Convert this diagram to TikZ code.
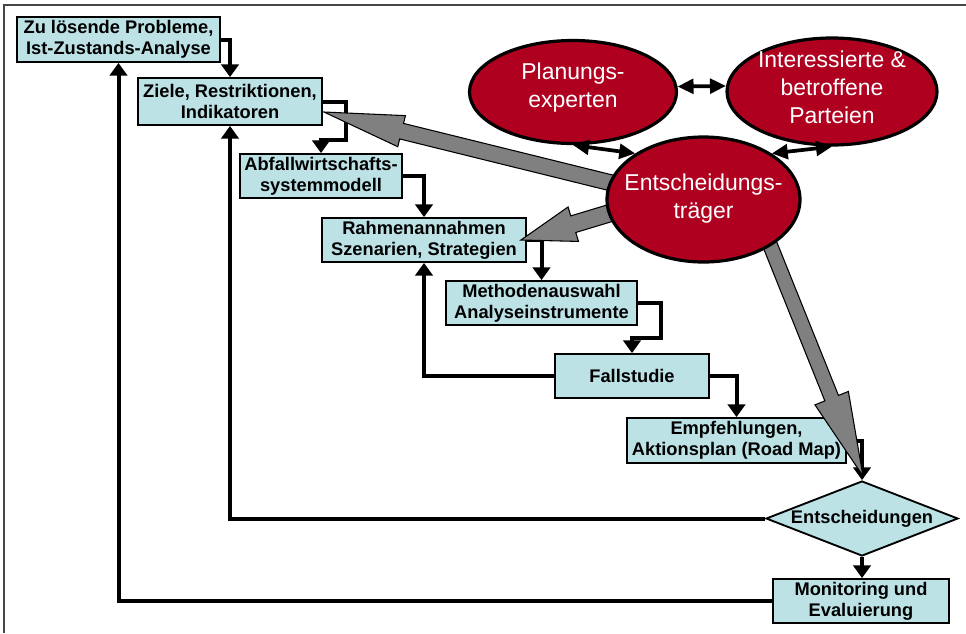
\documentclass[tikz,border=0pt]{standalone}
\usepackage{fontspec}
\setmainfont{Liberation Sans}
\usetikzlibrary{shapes.geometric,arrows.meta,calc}
\definecolor{boxfill}{RGB}{188,226,230}
\definecolor{ellred}{RGB}{176,0,32}
\definecolor{arrgrey}{RGB}{128,128,128}
\definecolor{framegrey}{RGB}{70,70,70}
\newcommand\mygreyarrow[5]{%
  \coordinate (fa-h) at ($(#2)!#5!(#1)$);
  \filldraw[fatarr] ($(#1)!#3!90:(#2)$) -- ($(fa-h)!#3!90:(#2)$) -- ($(fa-h)!#4!90:(#2)$)
    -- (#2) -- ($(fa-h)!#4!-90:(#2)$) -- ($(fa-h)!#3!-90:(#2)$) -- ($(#1)!#3!-90:(#2)$) -- cycle;
}
\begin{document}
\begin{tikzpicture}[x=0.75pt,y=-0.75pt,
  box/.style={draw=black,line width=1.4pt,fill=boxfill,rectangle,inner sep=0pt,align=center,
    font=\bfseries\fontsize{13.7}{15.5}\selectfont},
  dec/.style={draw=black,line width=1.4pt,fill=boxfill,diamond,shape aspect=2.56,inner sep=0pt,
    minimum width=144pt,minimum height=56.25pt,font=\bfseries\fontsize{13.7}{15.5}\selectfont},
  redell/.style={draw=black,line width=2.4pt,fill=ellred,ellipse,inner sep=0pt},
  elltext/.style={text=white,align=center,inner sep=0pt,font=\fontsize{17.2}{21}\selectfont},
  conn/.style={line width=3pt,-{Triangle[width=13pt,length=9.5pt]}},
  dbl/.style={line width=2.8pt,{Triangle[width=11pt,length=12pt]}-{Triangle[width=11pt,length=12pt]}},
  fatarr/.style={fill=arrgrey,draw=black,line width=0.8pt,line join=miter},
  frameline/.style={draw=framegrey,line width=1.2pt}
]
\useasboundingbox (0,0) rectangle (966,633);
% partial frame
\coordinate (fr-tr) at (966,5);
\coordinate (fr-tl) at (4,5);
\coordinate (fr-bl) at (4,633);
\draw[frameline] (fr-tr) -- (fr-tl) -- (fr-bl);

% boxes
\node[box,minimum width=152.25pt,minimum height=33.75pt] (pz) at (118.5,39.5) {Zu lösende Probleme,\\Ist-Zustands-Analyse};
\node[box,minimum width=138pt,minimum height=35.25pt] (zr) at (230,101.5) {Ziele, Restriktionen,\\Indikatoren};
\node[box,minimum width=121.5pt,minimum height=33pt] (ab) at (321,176) {Abfallwirtschafts-\\systemmodell};
\node[box,minimum width=153pt,minimum height=33pt] (ra) at (424,240) {Rahmenannahmen\\Szenarien, Strategien};
\node[box,minimum width=143.25pt,minimum height=33pt] (ms) at (541.5,303) {Methodenauswahl\\Analyseinstrumente};
\node[box,minimum width=115.5pt,minimum height=33pt] (fs) at (632,376) {Fallstudie};
\node[box,minimum width=164.25pt,minimum height=33.75pt] (em) at (736.5,440.5) {Empfehlungen,\\Aktionsplan (Road Map)};
\node[dec] (dz) at (862,518.5) {Entscheidungen};
\node[box,minimum width=132pt,minimum height=33pt] (mo) at (861,601) {Monitoring und\\Evaluierung};

% black connectors
\draw[conn] (pz.east) -| (zr.north);
\draw[conn] (zr.east) -- ++(23,0) -- ++(0,38.5) -| (ab.north);
\draw[conn] (ab.east) -| (ra.north);
\draw[conn] (ra.east) -| (ms.north);
\draw[conn] (ms.east) -- ++(23,0) -- ++(0,35) -| (fs.north);
\draw[conn] (fs.east) -| (em.north);
\draw[conn] (fs.west) -| (ra.south);
\draw[conn] (em.east) -| (dz.north);
\draw[conn] (dz.west) -| (zr.south);
\draw[conn] (dz.south) -- (dz.south |- mo.north);
\draw[conn] (mo.west) -| (pz.south);

% ellipses (positions)
\coordinate (etc) at (703.5,199.5);
% grey fat arrows from Entscheidungstraeger
\coordinate (g1a) at (640,190);
\coordinate (g1b) at ($(zr.east)+(1,10.5)$);
\coordinate (g2a) at (650,201);
\coordinate (g2b) at ($(ra.east)+(-6,0)$);
\coordinate (g3a) at (760,220);
\coordinate (g3b) at ($(dz.north)+(1,-4)$);
\mygreyarrow{g1a}{g1b}{6pt}{12pt}{60pt}
\mygreyarrow{g2a}{g2b}{6.5pt}{13.5pt}{41pt}
\mygreyarrow{g3a}{g3b}{5.5pt}{13.5pt}{63pt}

\node[redell,minimum width=155.25pt,minimum height=77.25pt] (pe) at (573,92) {};
\node[redell,minimum width=157.5pt,minimum height=80.25pt] (ip) at (832,91.5) {};
\node[redell,minimum width=144.75pt,minimum height=93.75pt] (et) at (etc) {};
\node[elltext] (pe-t) at (573,88) {Planungs-\\experten};
\node[elltext] (ip-t) at (832,87.5) {Interessierte \&\\betroffene\\Parteien};
\node[elltext] (et-t) at (703.5,198.5) {Entscheidungs-\\träger};

% double arrows between actors
\draw[dbl] (pe.3) -- (ip.177);
\draw[dbl] (pe.south) -- (et.146);
\draw[dbl] (et.34) -- (ip.south);
\end{tikzpicture}
\end{document}
